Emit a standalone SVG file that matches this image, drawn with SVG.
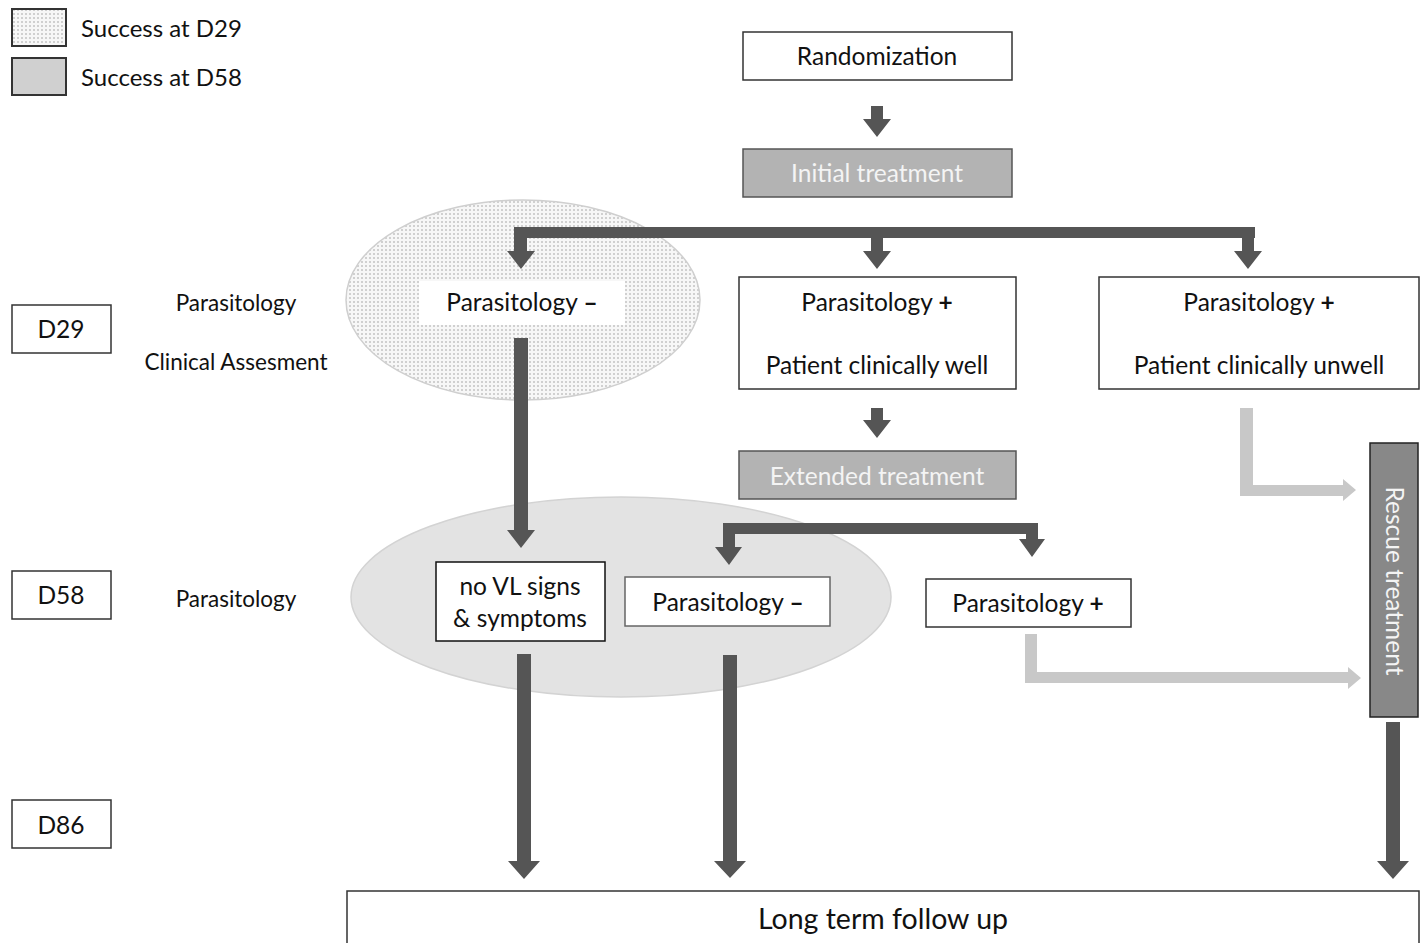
<svg xmlns="http://www.w3.org/2000/svg" width="1423" height="943" viewBox="0 0 1423 943">
<defs>
<pattern id="dots" width="4" height="4" patternUnits="userSpaceOnUse">
<rect width="4" height="4" fill="#f7f7f7"/>
<circle cx="2" cy="2" r="0.8" fill="#a0a0a0"/>
</pattern>
</defs>
<style>
text{font-family:Lato,"Open Sans","Liberation Sans",sans-serif;font-size:24.5px;fill:#111;text-anchor:middle}
.box{fill:#fff;stroke:#333;stroke-width:1.5}
.gbox{fill:#b3b3b3;stroke:#555;stroke-width:1.5}
.wt{fill:#f4f4f4}
.dark{fill:#555}
.light{fill:#c8c8c8}
.lt{text-anchor:start}
.lbl{font-size:22.5px}
.b{font-weight:bold}
</style>
<rect width="1423" height="943" fill="#fff"/>

<g id="legend">
<rect x="12" y="9" width="54" height="37" fill="url(#dots)" stroke="#333" stroke-width="2"/>
<text class="lt" x="81" y="37" style="font-size:24px">Success at D29</text>
<rect x="12" y="58" width="54" height="37" fill="#d0d0d0" stroke="#333" stroke-width="2"/>
<text class="lt" x="81" y="86" style="font-size:24px">Success at D58</text>
</g>

<g id="success-d29">
<ellipse cx="523" cy="300" rx="177" ry="100" fill="url(#dots)" stroke="#cfcfcf" stroke-width="1.5"/>
</g>
<g id="success-d58">
<ellipse cx="621" cy="597" rx="270" ry="100" fill="#e3e3e3" stroke="#d3d3d3" stroke-width="1.5"/>
</g>

<g id="timeline">
<rect class="box" x="12" y="305" width="99" height="48"/>
<text x="61" y="338">D29</text>
<text class="lbl" x="236" y="311">Parasitology</text>
<text class="lbl" x="236" y="370">Clinical Assesment</text>
<rect class="box" x="12" y="571" width="99" height="48"/>
<text x="61" y="604">D58</text>
<text class="lbl" x="236" y="607">Parasitology</text>
<rect class="box" x="12" y="800" width="99" height="48"/>
<text x="61" y="834">D86</text>
</g>

<g id="randomization">
<rect class="box" x="743" y="32" width="269" height="48"/>
<text x="877" y="65">Randomization</text>
</g>

<g id="initial-treatment">
<rect class="gbox" x="743" y="149" width="269" height="48"/>
<text class="wt" x="877" y="182">Initial treatment</text>
</g>

<g id="d29-negative">
<rect x="419" y="281" width="206" height="44" fill="#fff"/>
<text x="522" y="311">Parasitology <tspan class="b">–</tspan></text>
</g>

<g id="d29-positive-well">
<rect class="box" x="739" y="277" width="277" height="112"/>
<text x="877" y="311">Parasitology <tspan class="b">+</tspan></text>
<text x="877" y="374">Patient clinically well</text>
</g>

<g id="d29-positive-unwell">
<rect class="box" x="1099" y="277" width="320" height="112"/>
<text x="1259" y="311">Parasitology <tspan class="b">+</tspan></text>
<text x="1259" y="374">Patient clinically unwell</text>
</g>

<g id="extended-treatment">
<rect class="gbox" x="739" y="451" width="277" height="48"/>
<text class="wt" x="877" y="485">Extended treatment</text>
</g>

<g id="no-vl-signs">
<rect x="436" y="562" width="169" height="79" fill="#fff" stroke="#111" stroke-width="1.5"/>
<text x="520" y="595">no VL signs</text>
<text x="520" y="627">&amp; symptoms</text>
</g>

<g id="d58-negative">
<rect x="625" y="577" width="205" height="49" fill="#fff" stroke="#666" stroke-width="1.5"/>
<text x="728" y="611">Parasitology <tspan class="b">–</tspan></text>
</g>

<g id="d58-positive">
<rect class="box" x="926" y="579" width="205" height="48"/>
<text x="1028" y="612">Parasitology <tspan class="b">+</tspan></text>
</g>

<g id="rescue-treatment">
<rect x="1370" y="443" width="48" height="274" fill="#888" stroke="#222" stroke-width="1.5"/>
<text class="wt" transform="translate(1386 581) rotate(90)" x="0" y="0">Rescue treatment</text>
</g>

<g id="long-term">
<rect class="box" x="347" y="891" width="1072" height="60"/>
<text x="883" y="929" style="font-size:28.5px">Long term follow up</text>
</g>

<g id="connectors">
<polygon class="dark" points="871,106 883,106 883,119 891,119 877,137 863,119 871,119"/>
<polygon class="dark" points="514,227 1255,227 1255,238 1254,238 1254,251 1262,251 1248,269 1234,251 1242,251 1242,238 883,238 883,251 891,251 877,269 863,251 871,251 871,238 527,238 527,251 535,251 521,269 507,251 514,251"/>
<polygon class="dark" points="514,338 528,338 528,530 535,530 521,548 507,530 514,530"/>
<polygon class="dark" points="871,408 883,408 883,420 891,420 877,438 863,420 871,420"/>
<polygon class="dark" points="723,523 1038,523 1038,539 1045,539 1032,557 1019,539 1026,539 1026,534 735,534 735,547 742,547 729,565 715,547 723,547"/>
<polygon class="light" points="1240,408 1253,408 1253,485 1343,485 1343,479 1356,490 1343,501 1343,496 1240,496"/>
<polygon class="light" points="1025,634 1037,634 1037,672 1348,672 1348,667 1361,678 1348,689 1348,683 1025,683"/>
<polygon class="dark" points="517,654 531,654 531,861 540,861 524,879 508,861 517,861"/>
<polygon class="dark" points="723,655 737,655 737,861 746,861 730,878 714,861 723,861"/>
<polygon class="dark" points="1386,722 1400,722 1400,861 1409,861 1393,879 1377,861 1386,861"/>
</g>
</svg>
